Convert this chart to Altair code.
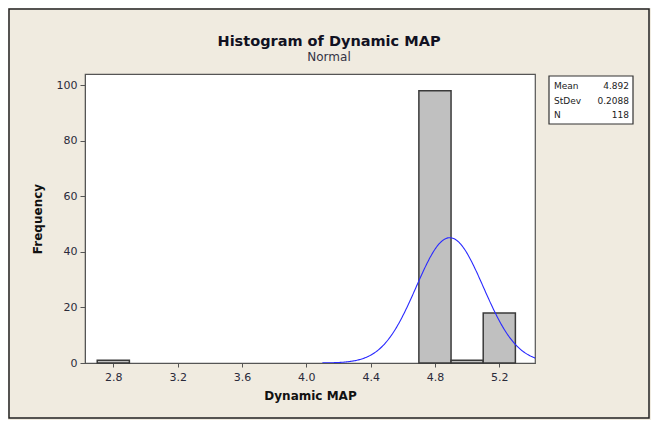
import altair as alt
import pandas as pd

# ---- data ----
bin_start = [2.7, 4.7, 4.9, 5.1]
bin_end = [2.9, 4.9, 5.1, 5.3]
counts = [1, 98, 1, 18]

stat_labels = ["Mean", "StDev", "N"]
stat_values = ["4.892", "0.2088", "118"]
mean_val = 4.892
sd_val = 0.2088
n_val = 118
bin_width = 0.2

title_text = "Histogram of Dynamic MAP"
subtitle_text = "Normal"

x_ticks = [2.8, 3.2, 3.6, 4.0, 4.4, 4.8, 5.2]
y_ticks = [0, 20, 40, 60, 80, 100]
x_domain = [2.624, 5.422]
y_domain = [0, 104]

W, H = 450, 289
PAD = {"left": 77, "top": 66, "right": 116, "bottom": 57}
FONT = "DejaVu Sans"

bars_df = pd.DataFrame({"start": bin_start, "end": bin_end, "count": counts})

xscale = alt.Scale(domain=x_domain, nice=False, zero=False)
yscale = alt.Scale(domain=y_domain, nice=False)

xaxis = alt.Axis(values=x_ticks, format=".1f", title="Dynamic MAP", grid=False,
                 labelFont=FONT, labelFontSize=11, labelColor="#2a2a3a",
                 titleFont=FONT, titleFontSize=12, titleFontWeight="bold",
                 titleColor="#111", tickSize=4, tickColor="#555",
                 domainColor="#555", labelPadding=4, titlePadding=8)
yaxis = alt.Axis(values=y_ticks, title="Frequency", grid=False,
                 labelFont=FONT, labelFontSize=11, labelColor="#2a2a3a",
                 titleFont=FONT, titleFontSize=12, titleFontWeight="bold",
                 titleColor="#111", tickSize=5, tickColor="#555",
                 domainColor="#555", labelPadding=3, titlePadding=12)

bars = alt.Chart(bars_df).mark_rect(
    fill="#C0C0C0", stroke="#3a3a3a", strokeWidth=1.5
).encode(
    x=alt.X("start:Q", scale=xscale, axis=xaxis),
    x2="end:Q",
    y=alt.Y("count:Q", scale=yscale, axis=yaxis),
    y2=alt.datum(0),
)

curve = alt.Chart(alt.sequence(4.1, 5.43, 0.005, as_="x")).transform_calculate(
    y=f"{n_val}*{bin_width}*exp(-0.5*pow((datum.x-{mean_val})/{sd_val},2))/({sd_val}*sqrt(2*PI))"
).mark_line(color="#2a2aff", strokeWidth=1.1, clip=True).encode(
    x=alt.X("x:Q", scale=xscale),
    y=alt.Y("y:Q", scale=yscale),
)

one = pd.DataFrame({"a": [0]})

# stats box (annotation outside the plot area)
box = alt.Chart(one).mark_rect(
    fill="white", stroke="#333", strokeWidth=1.2
).encode(x=alt.value(464), x2=alt.value(548), y=alt.value(2), y2=alt.value(50))

stat_left = alt.Chart(pd.DataFrame({"t": ["\n".join(stat_labels)]})).mark_text(
    align="left", baseline="alphabetic", font=FONT, fontSize=9, color="#222",
    lineBreak="\n", lineHeight=14.5
).encode(x=alt.value(469), y=alt.value(15), text="t:N")

stat_right = alt.Chart(pd.DataFrame({"t": ["\n".join(stat_values)]})).mark_text(
    align="right", baseline="alphabetic", font=FONT, fontSize=9, color="#222",
    lineBreak="\n", lineHeight=14.5
).encode(x=alt.value(544), y=alt.value(15), text="t:N")

# chart title and subtitle
title = alt.Chart(pd.DataFrame({"t": [title_text]})).mark_text(
    align="center", baseline="alphabetic", font=FONT, fontSize=14.5,
    fontWeight="bold", color="#111122"
).encode(x=alt.value(244), y=alt.value(-28), text="t:N")

subtitle = alt.Chart(pd.DataFrame({"t": [subtitle_text]})).mark_text(
    align="center", baseline="alphabetic", font=FONT, fontSize=12, color="#333344"
).encode(x=alt.value(244), y=alt.value(-13), text="t:N")

frame = alt.Chart(one).mark_rect(
    fill="white", fillOpacity=0, stroke="#222", strokeWidth=1.5
).encode(x=alt.value(-PAD["left"] + 1), x2=alt.value(W + PAD["right"] - 2),
         y=alt.value(-PAD["top"] + 1), y2=alt.value(H + PAD["bottom"] - 2))

chart = alt.layer(bars, curve, box, stat_left, stat_right, title, subtitle, frame).properties(
    width=W, height=H,
    autosize=alt.AutoSizeParams(type="none"),
    padding=PAD,
    background="#F0EBE0",
).configure_view(stroke="#555", strokeWidth=1.2, fill="white")

chart.save("out.html", embed_options={"renderer": "svg", "actions": False})
